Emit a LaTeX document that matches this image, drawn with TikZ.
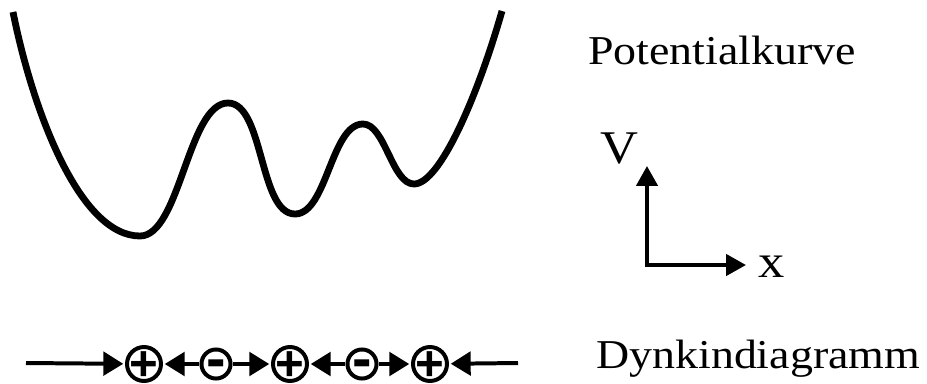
\documentclass[tikz,border=0pt]{standalone}
\usepackage{fontspec}
\setmainfont{Liberation Serif}
\newfontfamily\signfont{Liberation Sans}
\usetikzlibrary{arrows.meta}
\newcommand\wide[1]{\scalebox{1.12}[1]{#1}}
\tikzset{
    curve/.style = {
        line width=5.8pt,
        line join=round,
    },
    plusroot/.style = {
        circle,
        draw,
        line width=3.4pt,
        minimum size=29pt,
        inner sep=0pt,
        font=\signfont\bfseries\fontsize{42}{42}\selectfont,
    },
    minusroot/.style = {
        circle,
        draw,
        line width=3.4pt,
        minimum size=24.8pt,
        inner sep=0pt,
        font=\signfont\bfseries\fontsize{50}{50}\selectfont,
    },
    bond/.style = {-{Triangle[length=17pt,width=20pt]}, line width=3.4pt, shorten >=1.5pt},
    axis/.style = {line width=3.4pt},
    txt/.style = {inner sep=0pt, font=\fontsize{35}{35}\selectfont},
}
\newcommand\sign[2]{\raisebox{#1}[0pt][0pt]{#2}}

\begin{document}
\begin{tikzpicture}[x=0.03cm, y=-0.03cm]
  \useasboundingbox (0,0) rectangle (927,383);

  % potential curve: wells and barriers
  \draw[curve] (13,12) .. controls (33,112) and (80,236) .. (140,236)
    .. controls (180,236) and (188,103) .. (228,103)
    .. controls (264,103) and (259,214) .. (295,214)
    .. controls (327,214) and (331,124) .. (363,124)
    .. controls (385,124) and (392,184) .. (414,184)
    .. controls (440,184) and (478,95) .. (502,11);
  \node[txt, anchor=base west] (pk) at (588,64) {\wide{Potentialkurve}};

  % axes
  \coordinate (o)  at (647,265);
  \coordinate (vt) at (647,166);
  \coordinate (xt) at (746,265);
  \draw[axis, {Triangle[length=17pt,width=18pt]}-{Triangle[length=17pt,width=18pt]}] (vt) -- (o) -- (xt);
  \node[txt, anchor=base, font=\fontsize{40}{40}\selectfont] (vl) at (619,163) {\wide{V}};
  \node[txt, anchor=base, font=\fontsize{40}{40}\selectfont] (xl) at (772,277) {\wide{x}};

  % Dynkin diagram
  \node[plusroot]  (p1) at (144,364) {\sign{-.34em}{+}};
  \node[minusroot] (m1) at (216,364) {\sign{-.24em}{-}};
  \node[plusroot]  (p2) at (290,364) {\sign{-.34em}{+}};
  \node[minusroot] (m2) at (362,364) {\sign{-.24em}{-}};
  \node[plusroot]  (p3) at (430,364) {\sign{-.34em}{+}};
  \coordinate (le) at (26,363);
  \coordinate (re) at (518,363);

  \draw[bond] (le) -- (p1);
  \draw[bond] (m1) -- (p1);
  \draw[bond] (m1) -- (p2);
  \draw[bond] (m2) -- (p2);
  \draw[bond] (m2) -- (p3);
  \draw[bond] (re) -- (p3);
  \node[txt, anchor=base west] (dd) at (596,368) {\wide{Dynkindiagramm}};

\end{tikzpicture}
\end{document}
